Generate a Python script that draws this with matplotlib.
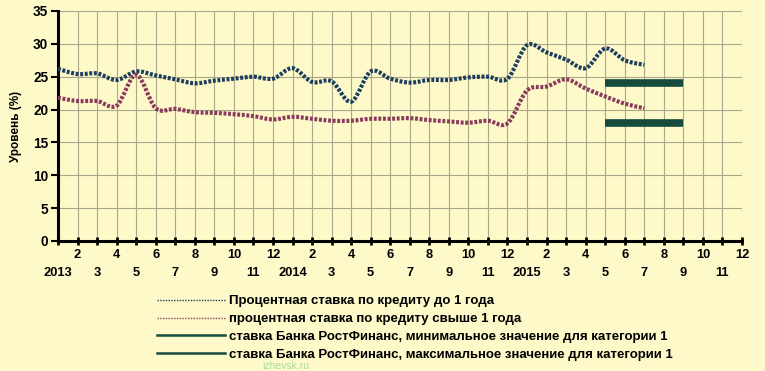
import matplotlib
matplotlib.use("Agg")
import matplotlib.pyplot as plt
import numpy as np
from matplotlib.path import Path
from matplotlib.patches import PathPatch
from matplotlib.lines import Line2D

plt.rcParams['font.family'] = ['Liberation Sans', 'DejaVu Sans']

# ---- data (month index 0 = Jan 2013) ----
years = [2013, 2014, 2015]
n_months = 36
rate_short = [26.2, 25.4, 25.5, 24.5, 25.8, 25.2, 24.6, 24.0, 24.4, 24.7, 25.0, 24.7,
              26.3, 24.2, 24.3, 21.2, 25.8, 24.7, 24.1, 24.5, 24.5, 24.9, 25.0, 24.7,
              29.8, 28.7, 27.6, 26.3, 29.3, 27.5, 26.8]
rate_long = [21.8, 21.3, 21.3, 20.6, 25.3, 20.2, 20.1, 19.6, 19.5, 19.3, 19.0, 18.5,
             18.9, 18.6, 18.3, 18.3, 18.6, 18.6, 18.7, 18.4, 18.2, 18.0, 18.3, 17.9,
             22.9, 23.5, 24.6, 23.2, 22.0, 20.9, 20.2]
bank_months = [28, 32]          # May 2015 .. Sep 2015
bank_min = [18, 18]
bank_max = [24, 24]

labels = ["Процентная ставка по кредиту до 1 года",
          "процентная ставка по кредиту свыше 1 года",
          "ставка Банка РостФинанс, минимальное значение для категории 1",
          "ставка Банка РостФинанс, максимальное значение для категории 1"]

c_short = '#1d3d5e'
c_long = '#8a3b5c'
c_bank = '#154a3c'
bg = '#fdf9c9'

def smooth_path(xs, ys):
    p = np.column_stack([xs, ys]).astype(float)
    n = len(p)
    verts = [p[0]]
    codes = [Path.MOVETO]
    for i in range(n - 1):
        p0 = p[i - 1] if i > 0 else p[i]
        p1 = p[i]
        p2 = p[i + 1]
        p3 = p[i + 2] if i + 2 < n else p[i + 1]
        c1 = p1 + (p2 - p0) / 6.0
        c2 = p2 - (p3 - p1) / 6.0
        verts += [c1, c2, p2]
        codes += [Path.CURVE4] * 3
    return Path(verts, codes)

fig = plt.figure(figsize=(7.65, 3.71), dpi=100, facecolor=bg)
ax = fig.add_axes([58/765, 1-241/371, (742-58)/765, (241-11)/371])
ax.set_facecolor(bg)

x_short = np.arange(len(rate_short))
x_long = np.arange(len(rate_long))
for xs, ys, col in [(x_short, rate_short, c_short), (x_long, rate_long, c_long)]:
    ax.add_patch(PathPatch(smooth_path(xs, ys), fill=False, edgecolor=col,
                           lw=3.0, linestyle=(0, (0.7, 0.4)), capstyle='butt', zorder=3))
ax.plot(bank_months, bank_min, color=c_bank, lw=5.5, solid_capstyle='butt', zorder=3)
ax.plot(bank_months, bank_max, color=c_bank, lw=5.5, solid_capstyle='butt', zorder=3)

ax.set_xlim(0, n_months - 1)
ax.set_ylim(0, 35)
ax.set_yticks(range(0, 36, 5))

# top row: even months; bottom row: odd months and years
top_pos = [i for i in range(n_months) if (i % 12 + 1) % 2 == 0]
bot_pos = [i for i in range(n_months) if (i % 12 + 1) % 2 == 1]
top_lab = [str(i % 12 + 1) for i in top_pos]
bot_lab = [str(years[i // 12]) if i % 12 == 0 else str(i % 12 + 1) for i in bot_pos]
ax.set_xticks(top_pos)
ax.set_xticklabels(top_lab, fontsize=9.3, fontweight='bold')
ax.set_xticks(bot_pos, minor=True)
ax.set_xticklabels(bot_lab, minor=True, fontsize=9.3, fontweight='bold')
ax.tick_params(axis='x', which='both', direction='inout', length=6, width=2)
ax.tick_params(axis='x', which='major', pad=3)
ax.tick_params(axis='x', which='minor', pad=16)
for t in ax.get_yticklabels():
    t.set_fontsize(9.8)
    t.set_fontweight('bold')
ax.tick_params(axis='y', direction='out', length=5, width=1.5, pad=2)

ax.grid(True, which='both', axis='x', color='#aaa78a', lw=0.8)
ax.grid(True, which='major', axis='y', color='#aaa78a', lw=0.8)
ax.set_axisbelow(True)
for s in ['top', 'right']:
    ax.spines[s].set_visible(False)
for s in ['left', 'bottom']:
    ax.spines[s].set_linewidth(2.2)
    ax.spines[s].set_color('black')

ax.set_ylabel("Уровень (%)", fontsize=8.5, fontweight='bold', labelpad=8)

handles = [Line2D([], [], color=c_short, lw=1.0, linestyle=(0, (1, 1))),
           Line2D([], [], color=c_long, lw=1.0, linestyle=(0, (1, 1))),
           Line2D([], [], color=c_bank, lw=1.8),
           Line2D([], [], color=c_bank, lw=1.8)]
leg = fig.legend(handles, labels, loc='upper left', bbox_to_anchor=(157/765, 1-295/371),
                 frameon=False, borderpad=0, borderaxespad=0, handlelength=5.15,
                 handletextpad=0.3, labelspacing=0.43,
                 prop={'size': 9.5, 'weight': 'bold'})

fig.text(286/765, 1-366/371, "izhevsk.ru", color='#a8dca0', fontsize=7.5,
         ha='center', va='center')

fig.savefig("out.png", dpi=100, facecolor=bg)
